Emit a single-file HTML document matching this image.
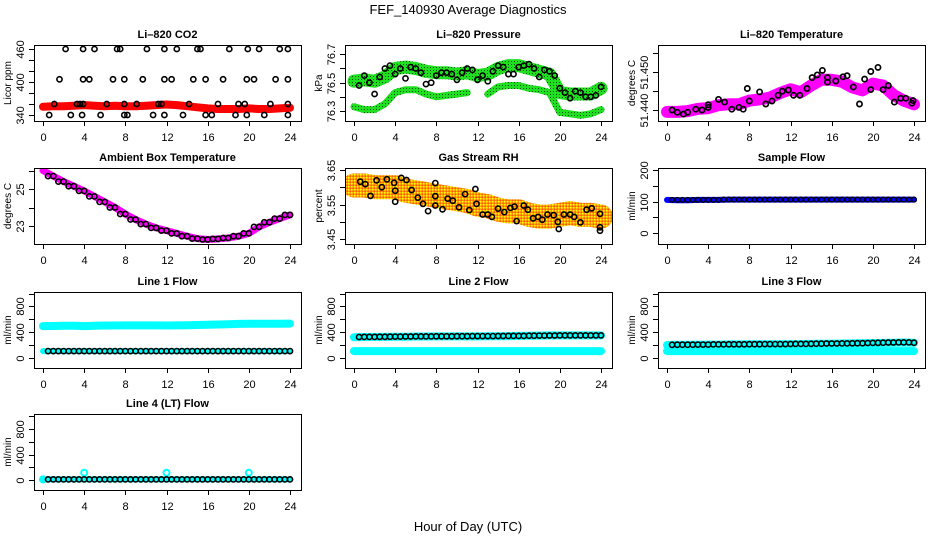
<!DOCTYPE html>
<html><head><meta charset="utf-8"><title>FEF_140930 Average Diagnostics</title>
<style>
html,body{margin:0;padding:0;background:#fff;}
svg{display:block;font-family:"Liberation Sans",Arial,sans-serif;}
</style></head>
<body>
<svg id="chart" width="936" height="540" viewBox="0 0 936 540" xmlns="http://www.w3.org/2000/svg">
<defs>
<pattern id="greenPat" width="3" height="3" patternUnits="userSpaceOnUse"><rect width="3" height="3" fill="#1ee01e"/><rect x="1" y="1" width="1" height="1" fill="#0a500a"/></pattern>
<pattern id="rhPat" width="3" height="3" patternUnits="userSpaceOnUse"><rect width="3" height="3" fill="#ff9a00"/><rect x="0" y="0" width="1.5" height="1.5" fill="#ffff00"/><rect x="1.5" y="1.5" width="1.5" height="1.5" fill="#ff2000" opacity="0.5"/></pattern>
</defs>
<text x="468" y="14" font-size="13" text-anchor="middle">FEF_140930  Average Diagnostics</text>
<text x="468" y="531" font-size="13" text-anchor="middle">Hour of Day (UTC)</text>
</svg>
<script>
// ---------- data ----------
const hours = [0,1,2,3,4,5,6,7,8,9,10,11,12,13,14,15,16,17,18,19,20,21,22,23,24];
const xTicks = [0,4,8,12,16,20,24];
const xTickLabels = ['0','4','8','12','16','20','24'];

// CO2
const co2Band = [355,356,356,357,358,357,356,357,356,356,357,358,359,358,356,354,352,351,351,351,352,351,351,352,353];
const co2PtHours = [2.2,3.9,5.0,7.2,7.5,10.1,11.8,13,15,15.3,18.1,19.9,21,23,23.8,
  1.6,3.9,4.5,6.8,7.9,9.7,11.8,12.5,14.6,15.8,17.5,19.8,20.5,22.6,23.8,
  1.1,3.3,3.6,3.9,6.2,7.9,9.1,11.2,11.5,14.2,17,19,19.6,22.1,23.8,
  0.6,2.7,3.8,5.6,7.9,8.2,10.7,11.8,13.6,15.8,16.4,18.7,19.8,21.5,23.8];
const co2PtValues = [460,460,460,460,460,460,460,460,460,460,460,460,460,460,460,
  405,405,405,405,405,405,405,405,405,405,405,405,405,405,405,
  360,360,360,360,360,360,360,360,360,360,360,360,360,360,360,
  340,340,340,340,340,340,340,340,340,340,340,340,340,340,340];
const co2Ticks = [340,360,380,400,420,440,460];
const co2TickLabels = ['340','','','400','','','460'];

// Pressure
const pressUpper = [76.51,76.52,76.51,76.54,76.6,76.61,76.6,76.58,76.57,76.57,76.56,76.57,76.55,76.56,76.6,76.62,76.62,76.6,76.58,76.56,76.43,76.42,76.42,76.42,76.46];
const pressLower = [76.33,76.31,76.31,76.35,76.43,76.45,76.45,76.42,76.4,76.41,76.42,76.43,null,76.42,76.47,76.48,76.48,76.46,76.45,76.43,76.29,76.28,76.27,76.28,76.31];
const pressPtHours = [0.5,1,1.5,2,2.5,3,3.5,4,4.5,5,5.5,6,6.5,7,7.5,8,8.5,9,9.5,10,10.5,11,11.5,12,12.5,13,13.5,14,14.5,15,15.5,16,16.5,17,17.5,18,18.5,19,19.5,20,20.5,21,21.5,22,22.5,23,23.5,24];
const pressPtValues = [76.48,76.55,76.5,76.42,76.54,76.6,76.62,76.56,76.6,76.53,76.61,76.6,76.57,76.49,76.5,76.55,76.57,76.57,76.56,76.52,76.57,76.6,76.59,76.52,76.55,76.51,76.58,76.62,76.61,76.56,76.56,76.61,76.62,76.63,76.6,76.54,76.59,76.58,76.55,76.46,76.43,76.39,76.44,76.43,76.4,76.4,76.41,76.47];
const pressTicks = [76.3,76.4,76.5,76.6,76.7];
const pressTickLabels = ['76.3','','76.5','','76.7'];

// Li-820 temperature
const tempBand = [51.4395,51.4395,51.4397,51.4403,51.4405,51.4413,51.4415,51.4415,51.4425,51.4428,51.4433,51.4445,51.4455,51.4447,51.4465,51.4480,51.4480,51.4475,51.4460,51.4452,51.4470,51.4465,51.4440,51.4425,51.4415];
const tempPtHours = [0.5,1,1.6,2,2.8,3.4,4,4,5,5.6,6.3,7,7.4,7.8,8,9,9.6,10.2,10.8,11.2,11.8,12.3,12.9,13.6,14.1,14.6,15.1,15.6,15.6,16.4,17.1,17.5,18.1,18.7,19.2,19.8,19.8,20.5,21,21.5,22.1,22.7,23.2,23.8,23.9];
const tempPtValues = [51.4400,51.4394,51.4389,51.4394,51.4402,51.4400,51.4407,51.4414,51.4428,51.4421,51.4402,51.4407,51.4402,51.4457,51.4424,51.4448,51.4416,51.4424,51.4439,51.4450,51.4453,51.4439,51.4439,51.4457,51.4486,51.4493,51.4505,51.4486,51.4474,51.4477,51.4488,51.4491,51.4461,51.4416,51.4482,51.4502,51.4454,51.4513,51.4454,51.4465,51.4421,51.4431,51.4431,51.4418,51.4425];
const tempTicks = [51.440,51.445,51.450,51.455];
const tempTickLabels = ['51.440','','51.450',''];

// Ambient box temperature
const ambientValues = [26.0,25.7,25.4,25.15,24.9,24.6,24.3,24.0,23.65,23.35,23.1,22.9,22.75,22.6,22.45,22.32,22.27,22.3,22.35,22.45,22.6,22.95,23.2,23.4,23.6];
const ambientTicks = [23,24,25,26];
const ambientTickLabels = ['23','','25',''];

// Gas stream RH
const rhBand = [3.605,3.605,3.6,3.6,3.6,3.59,3.585,3.58,3.575,3.57,3.565,3.56,3.55,3.545,3.535,3.53,3.53,3.52,3.515,3.515,3.52,3.525,3.52,3.52,3.515];
const rhPtHours = [0.6,1.1,1.6,2.2,2.7,3.2,3.9,4,4,4.6,5.1,5.6,6.2,6.7,7.2,7.9,7.9,7.9,8.6,9.1,9.6,10.2,10.8,11.2,11.8,11.9,12.5,13,13.4,14,14.6,15.2,15.6,15.8,16.5,16.9,17.4,17.9,18.3,18.8,19.4,19.8,19.9,20.4,21,21.4,22,22.6,23.1,23.9,23.9,23.9];
const rhPtValues = [3.616,3.609,3.575,3.62,3.60,3.623,3.613,3.59,3.558,3.627,3.621,3.592,3.57,3.552,3.531,3.612,3.574,3.547,3.536,3.567,3.561,3.542,3.58,3.534,3.595,3.552,3.521,3.521,3.514,3.538,3.528,3.54,3.544,3.502,3.547,3.535,3.51,3.514,3.506,3.521,3.519,3.50,3.479,3.521,3.521,3.514,3.498,3.535,3.539,3.523,3.484,3.474];
const rhTicks = [3.45,3.50,3.55,3.60,3.65];
const rhTickLabels = ['3.45','','3.55','','3.65'];

// Flows
const flowPtHours = [0.5,1,1.5,2,2.5,3,3.5,4,4.5,5,5.5,6,6.5,7,7.5,8,8.5,9,9.5,10,10.5,11,11.5,12,12.5,13,13.5,14,14.5,15,15.5,16,16.5,17,17.5,18,18.5,19,19.5,20,20.5,21,21.5,22,22.5,23,23.5,24];
const sampleFlowBand = [105,104,104,105,105,105,106,106,106,106,106,106,106,106,106,106,106,106,106,106,106,106,106,106,106];
const sampleFlowPts = [105,105,105,105,105,105,105,105,105,105,106,106,106,106,106,106,106,106,106,106,106,106,106,106,106,106,106,106,106,106,106,106,106,106,106,106,106,106,106,106,106,106,106,106,106,106,106,106];
const sampleTicks = [0,50,100,150,200];
const sampleTickLabels = ['0','','100','','200'];

const line1Upper = [490,492,495,495,490,495,500,500,502,502,502,502,500,502,505,508,512,515,520,525,528,528,528,528,530];
const line1Lower = [100,100,100,100,100,100,100,100,100,100,100,100,100,100,100,100,100,100,100,100,100,100,100,100,100];
const line1Pts = [100,100,100,100,100,100,100,100,100,100,100,100,100,100,100,100,100,100,100,100,100,100,100,100,100,100,100,100,100,100,100,100,100,100,100,100,100,100,100,100,100,100,100,100,100,100,100,100];

const line2Upper = [315,320,322,322,325,325,328,328,330,330,330,330,330,332,332,335,338,340,342,345,345,345,345,345,345];
const line2Lower = [100,100,100,100,100,100,100,100,100,100,100,100,100,100,100,100,100,100,100,100,100,100,100,100,100];
const line2Pts = [320,322,322,322,324,324,325,326,326,328,328,330,330,330,330,331,332,332,332,333,333,333,334,334,334,335,335,336,336,337,337,338,338,340,340,342,342,344,344,345,345,345,345,345,345,345,345,345];

const line3Upper = [195,198,200,200,202,202,205,205,207,207,208,208,210,210,212,214,216,218,220,222,225,228,232,235,232];
const line3Lower = [100,100,100,100,100,100,100,100,100,100,100,100,100,100,100,100,100,100,100,100,100,100,100,100,100];
const line3Pts = [198,200,200,200,200,202,202,202,204,205,205,206,206,207,207,208,208,208,209,209,210,210,210,211,212,212,213,214,215,216,218,218,219,220,221,222,223,224,226,228,230,232,234,235,236,236,236,232];

const line4Band = [10,10,10,10,10,10,10,10,10,10,10,10,10,10,10,10,10,10,10,10,10,10,10,10,10];
const line4Pts = [10,10,10,10,10,10,10,10,10,10,10,10,10,10,10,10,10,10,10,10,10,10,10,10,10,10,10,10,10,10,10,10,10,10,10,10,10,10,10,10,10,10,10,10,10,10,10,10];
const line4OutHours = [0,4,12,20];
const line4OutValues = [10,114,114,114];

const flowTicks = [0,200,400,600,800,1000];
const flowTickLabels = ['0','','400','','800',''];

// ---------- drawing ----------
const NS = 'http://www.w3.org/2000/svg';
const svg = document.getElementById('chart');
const colLefts = [34, 345, 658];
const rowTops = [45, 168, 292, 414];
const PW = 267, PH = 76;

function mk(tag, parent) { const e = document.createElementNS(NS, tag); parent.appendChild(e); return e; }

function panel(name, title, ylab, col, row, d1, o1, d2, o2, ticks, tickLabels) {
  const left = colLefts[col], top = rowTops[row];
  const g = mk('g', svg);
  
  
  const sx = v => left + 9 + v * (247 / 24);
  const sy = v => top + o1 + (v - d1) * (o2 - o1) / (d2 - d1);
  const cp = mk('clipPath', g); cp.setAttribute('id', 'clip-' + name);
  const cr = mk('rect', cp);
  cr.setAttribute('x', left); cr.setAttribute('y', top); cr.setAttribute('width', PW); cr.setAttribute('height', PH);
  const plot = mk('g', g);
  plot.setAttribute('clip-path', 'url(#clip-' + name + ')');
  
  
  const box = mk('rect', g);
  
  
  box.setAttribute('x', left + 0.5); box.setAttribute('y', top + 0.5);
  box.setAttribute('width', PW); box.setAttribute('height', PH);
  box.setAttribute('fill', 'none'); box.setAttribute('stroke', '#000'); box.setAttribute('stroke-width', '1');
  const t = mk('text', g);
  
  
  t.setAttribute('x', left + PW / 2); t.setAttribute('y', top - 7);
  t.setAttribute('text-anchor', 'middle'); t.setAttribute('font-size', '11'); t.setAttribute('font-weight', 'bold');
  t.textContent = title;
  const yl = mk('text', g);
  
  
  yl.setAttribute('transform', 'translate(' + (left - 23) + ',' + (top + PH / 2) + ') rotate(-90)');
  yl.setAttribute('text-anchor', 'middle'); yl.setAttribute('font-size', '10');
  yl.textContent = ylab;
  const xa = mk('g', g);
  
  
  xTicks.forEach((v, i) => {
    const x = Math.round(sx(v)) + 0.5;
    const l = mk('line', xa);
    l.setAttribute('x1', x); l.setAttribute('x2', x); l.setAttribute('y1', top + PH); l.setAttribute('y2', top + PH + 5);
    l.setAttribute('stroke', '#000');
    const tx = mk('text', xa);
    
    
    tx.setAttribute('x', x); tx.setAttribute('y', top + PH + 20);
    tx.setAttribute('text-anchor', 'middle'); tx.setAttribute('font-size', '11');
    tx.textContent = xTickLabels[i];
  });
  const ya = mk('g', g);
  
  
  ticks.forEach((v, i) => {
    const y = Math.round(sy(v)) + 0.5;
    if (y < top - 1 || y > top + PH + 1) return;
    const l = mk('line', ya);
    l.setAttribute('x1', left - 5); l.setAttribute('x2', left); l.setAttribute('y1', y); l.setAttribute('y2', y);
    l.setAttribute('stroke', '#000');
    if (tickLabels[i]) {
      const tx = mk('text', ya);
      
      
      tx.setAttribute('transform', 'translate(' + (left - 10) + ',' + y + ') rotate(-90)');
      tx.setAttribute('text-anchor', 'middle'); tx.setAttribute('font-size', '11');
      tx.textContent = tickLabels[i];
    }
  });
  return { plot, sx, sy };
}

function band(p, name, xs, ys, widthPx, color) {
  let d = '', pen = false;
  xs.forEach((x, i) => {
    const v = ys[i];
    if (v === null || v === undefined) { pen = false; return; }
    d += (pen ? 'L' : 'M') + p.sx(x).toFixed(1) + ',' + p.sy(v).toFixed(1);
    pen = true;
  });
  const path = mk('path', p.plot);
  
  
  path.setAttribute('d', d);
  path.setAttribute('fill', 'none'); path.setAttribute('stroke', color);
  path.setAttribute('stroke-width', widthPx); path.setAttribute('stroke-linecap', 'round'); path.setAttribute('stroke-linejoin', 'round');
}

function pts(p, name, xs, ys, color, r, sw) {
  const g = mk('g', p.plot);
  
  
  xs.forEach((x, i) => {
    const c = mk('circle', g);
    
    
    c.setAttribute('cx', p.sx(x).toFixed(1)); c.setAttribute('cy', p.sy(ys[i]).toFixed(1));
    c.setAttribute('r', r); c.setAttribute('fill', 'none'); c.setAttribute('stroke', color); c.setAttribute('stroke-width', sw);
  });
}

// Row 1
let p = panel('co2', 'Li\u2013820 CO2', 'Licor ppm', 0, 0, 460, 4, 340, 70, co2Ticks, co2TickLabels);
band(p, 'co2-red-band', hours, co2Band, 8, '#ff0000');
pts(p, 'co2-avg', co2PtHours, co2PtValues, '#000', 2.6, 1.6);

p = panel('pressure', 'Li\u2013820 Pressure', 'kPa', 1, 0, 76.7, 9.3, 76.3, 66, pressTicks, pressTickLabels);
band(p, 'pressure-upper-band', hours, pressUpper, 13, 'url(#greenPat)');
band(p, 'pressure-lower-band', hours, pressLower, 7, 'url(#greenPat)');
pts(p, 'pressure-avg', pressPtHours, pressPtValues, '#000', 2.6, 1.6);

p = panel('li820-temp', 'Li\u2013820 Temperature', 'degrees C', 2, 0, 51.450, 27.3, 51.440, 65, tempTicks, tempTickLabels);
band(p, 'temp-magenta-band', hours, tempBand, 12, '#ff00ff');
pts(p, 'temp-avg', tempPtHours, tempPtValues, '#000', 2.6, 1.7);

// Row 2
p = panel('ambient', 'Ambient Box Temperature', 'degrees C', 0, 1, 25, 21, 23, 58, ambientTicks, ambientTickLabels);
band(p, 'ambient-magenta-band', hours, ambientValues, 7, '#ff00ff');
pts(p, 'ambient-avg', flowPtHours, flowPtHours.map(h => ambientValues[Math.min(24, Math.round(h))]), '#000', 2.6, 1.6);

p = panel('rh', 'Gas Stream RH', 'percent', 1, 1, 3.65, 2, 3.45, 71, rhTicks, rhTickLabels);
band(p, 'rh-band', hours, rhBand, 24, 'url(#rhPat)');
pts(p, 'rh-avg', rhPtHours, rhPtValues, '#000', 2.6, 1.6);

p = panel('sample-flow', 'Sample Flow', 'ml/min', 2, 1, 200, 2, 0, 65, sampleTicks, sampleTickLabels);
band(p, 'sample-flow-band', hours, sampleFlowBand, 6, '#0000ff');
pts(p, 'sample-flow-avg', flowPtHours, sampleFlowPts, '#000', 2.4, 1.3);

// Row 3
p = panel('line1', 'Line 1 Flow', 'ml/min', 0, 2, 800, 14.3, 0, 65.5, flowTicks, flowTickLabels);
band(p, 'line1-upper-band', hours, line1Upper, 8, '#00ffff');
band(p, 'line1-lower-band', hours, line1Lower, 6, '#00ffff');
pts(p, 'line1-avg', flowPtHours, line1Pts, '#000', 2.6, 1.6);

p = panel('line2', 'Line 2 Flow', 'ml/min', 1, 2, 800, 14.3, 0, 65.5, flowTicks, flowTickLabels);
band(p, 'line2-upper-band', hours, line2Upper, 8, '#00ffff');
band(p, 'line2-lower-band', hours, line2Lower, 8, '#00ffff');
pts(p, 'line2-avg', flowPtHours, line2Pts, '#000', 2.6, 1.6);

p = panel('line3', 'Line 3 Flow', 'ml/min', 2, 2, 800, 14.3, 0, 65.5, flowTicks, flowTickLabels);
band(p, 'line3-upper-band', hours, line3Upper, 8, '#00ffff');
band(p, 'line3-lower-band', hours, line3Lower, 8, '#00ffff');
pts(p, 'line3-avg', flowPtHours, line3Pts, '#000', 2.6, 1.6);

// Row 4
p = panel('line4', 'Line 4 (LT) Flow', 'ml/min', 0, 3, 800, 15, 0, 66, flowTicks, flowTickLabels);
band(p, 'line4-band', hours, line4Band, 6, '#00ffff');
pts(p, 'line4-outliers', line4OutHours, line4OutValues, '#00ffff', 3, 2);
pts(p, 'line4-avg', flowPtHours, line4Pts, '#000', 2.6, 1.6);
</script>
</body></html>
